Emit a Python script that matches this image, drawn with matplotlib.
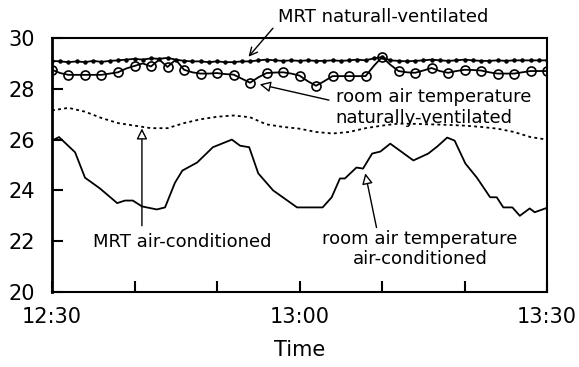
import matplotlib
matplotlib.use('Agg')
import matplotlib.pyplot as plt

plt.rcParams['font.family'] = ['DejaVu Sans']

# minutes after 12:30
nv_room_t = list(range(0, 61))
nv_room = [28.75, 28.62, 28.55, 28.55, 28.55, 28.55, 28.55, 28.6, 28.65, 28.8,
           28.9, 29.0, 28.88, 29.15, 28.86, 29.15, 28.75, 28.65, 28.6, 28.6,
           28.62, 28.58, 28.56, 28.4, 28.24, 28.45, 28.62, 28.64, 28.65, 28.6,
           28.52, 28.3, 28.12, 28.3, 28.5, 28.5, 28.5, 28.5, 28.5, 28.9,
           29.25, 28.95, 28.7, 28.65, 28.63, 28.72, 28.82, 28.7, 28.63, 28.7,
           28.75, 28.74, 28.72, 28.65, 28.6, 28.6, 28.6, 28.65, 28.7, 28.7, 28.7]

nv_mrt_t = list(range(0, 61))
nv_mrt = [29.1, 29.08, 29.05, 29.08, 29.05, 29.1, 29.06, 29.1, 29.12, 29.15,
          29.18, 29.15, 29.2, 29.18, 29.22, 29.15, 29.1, 29.08, 29.08, 29.05,
          29.08, 29.05, 29.05, 29.08, 29.08, 29.12, 29.15, 29.12, 29.1, 29.12,
          29.1, 29.12, 29.1, 29.1, 29.12, 29.1, 29.12, 29.15, 29.12, 29.2,
          29.25, 29.12, 29.1, 29.08, 29.1, 29.12, 29.15, 29.12, 29.1, 29.12,
          29.15, 29.12, 29.1, 29.1, 29.12, 29.1, 29.12, 29.12, 29.12, 29.12, 29.12]

ac_mrt_t = list(range(0, 61, 2))
ac_mrt = [27.15, 27.25, 27.1, 26.85, 26.65, 26.55, 26.45, 26.45, 26.65, 26.8,
          26.9, 26.95, 26.88, 26.6, 26.5, 26.43, 26.3, 26.24, 26.3, 26.45,
          26.55, 26.63, 26.62, 26.6, 26.58, 26.55, 26.5, 26.43, 26.3, 26.1, 26.0]

ac_room_t = [0, 0.85, 2.8, 4.0, 5.8, 7.9, 8.85, 9.8, 10.9, 12.7, 13.7, 14.9,
             15.8, 17.6, 19.5, 21.8, 22.8, 23.9, 25.0, 26.8, 29.7, 32.8, 33.9,
             34.9, 35.5, 36.9, 37.7, 38.8, 39.8, 41.0, 43.8, 45.6, 46.7, 47.9,
             48.8, 50.1, 51.5, 53.1, 53.9, 54.7, 55.8, 56.7, 57.9, 58.5, 59.8]
ac_room = [25.96, 26.1, 25.5, 24.5, 24.08, 23.5, 23.6, 23.6, 23.37, 23.25, 23.33,
           24.3, 24.78, 25.1, 25.7, 26.0, 25.76, 25.7, 24.67, 24.0, 23.33, 23.33,
           23.73, 24.47, 24.47, 24.9, 24.86, 25.45, 25.53, 25.84, 25.18, 25.45,
           25.73, 26.08, 25.96, 25.06, 24.5, 23.73, 23.73, 23.33, 23.33, 23.0,
           23.29, 23.14, 23.29]

x_ticks = [0, 10, 20, 30, 40, 50, 60]
x_ticklabels = ['12:30', '', '', '13:00', '', '', '13:30']
y_ticks = [20, 22, 24, 26, 28, 30]

fig = plt.figure(figsize=(5.79, 3.67), dpi=100)
ax = fig.add_axes([0.0898, 0.2044, 0.855, 0.692])

ax.plot(nv_mrt_t, nv_mrt, color='black', lw=1.3, marker='o', ms=2.2)
ax.plot(nv_room_t, nv_room, color='black', lw=1.3, marker='o', ms=6.5,
        mfc='none', mew=1.2, markevery=2)
ax.plot(ac_mrt_t, ac_mrt, color='black', lw=1.3, linestyle=(0, (1.6, 1.8)))
ax.plot(ac_room_t, ac_room, color='black', lw=1.3)

ax.set_xlim(0, 60)
ax.set_ylim(20, 30)
ax.set_xticks(x_ticks)
ax.set_xticklabels(x_ticklabels)
ax.set_yticks(y_ticks)
ax.tick_params(direction='in', length=8, width=1.5, labelsize=15, color='black')
ax.tick_params(axis='x', pad=11)
ax.tick_params(axis='y', pad=12)
for s in ax.spines.values():
    s.set_linewidth(1.5)
ax.spines['left'].set_linewidth(2)
ax.set_xlabel('Time', fontsize=15, labelpad=9)

fs = 13
ax.text(27.4, 30.82, 'MRT naturall-ventilated', fontsize=fs, ha='left', va='center')
ax.annotate('', xy=(23.6, 29.18), xytext=(27.0, 30.47),
            arrowprops=dict(arrowstyle='->', color='black', lw=1, mutation_scale=14),
            annotation_clip=False)

ax.text(34.4, 27.25, 'room air temperature\nnaturally-ventilated', fontsize=fs,
        ha='left', va='center', linespacing=1.2)
ax.annotate('', xy=(24.85, 28.2), xytext=(33.9, 27.53),
            arrowprops=dict(arrowstyle='-|>', fc='white', ec='black', lw=1, mutation_scale=16))

ax.text(15.8, 21.96, 'MRT air-conditioned', fontsize=fs, ha='center', va='center')
ax.annotate('', xy=(10.9, 26.55), xytext=(10.9, 22.5),
            arrowprops=dict(arrowstyle='-|>', fc='white', ec='black', lw=1, mutation_scale=16))

ax.text(44.6, 21.69, 'room air temperature\nair-conditioned', fontsize=fs,
        ha='center', va='center', linespacing=1.2)
ax.annotate('', xy=(37.9, 24.78), xytext=(39.4, 22.43),
            arrowprops=dict(arrowstyle='-|>', fc='white', ec='black', lw=1, mutation_scale=16))

fig.savefig('out.png', dpi=100)
